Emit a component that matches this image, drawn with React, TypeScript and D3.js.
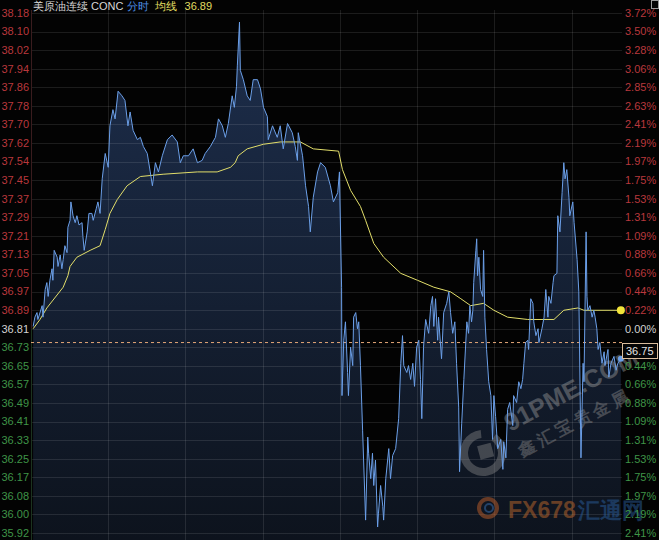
import React from 'react';
import * as d3 from 'd3';

const W = 659;
const H = 540;
const BASE = 36.81;
const STEP = 0.002188;

const leftLabels = ['38.18','38.10','38.02','37.94','37.86','37.78','37.70','37.62','37.54','37.45','37.37','37.29','37.21','37.13','37.05','36.97','36.89','36.81','36.73','36.65','36.57','36.49','36.41','36.33','36.25','36.17','36.08','36.00','35.92'];
const rightLabels = ['3.72%','3.50%','3.28%','3.06%','2.85%','2.63%','2.41%','2.19%','1.97%','1.75%','1.53%','1.31%','1.09%','0.88%','0.66%','0.44%','0.22%','0.00%','0.22%','0.44%','0.66%','0.88%','1.09%','1.31%','1.53%','1.75%','1.97%','2.19%','2.41%'];

const priceTimes = [
  5,9,14,16,26,28,33,37,40,44,49,51,54,61,63,68,72,75,79,84,86,91,93,98,103,107,112,119,121,124,131,135,142,145,152,156,161,163,166,
  173,180,184,191,196,203,212,219,226,231,238,248,255,262,271,278,283,290,297,306,318,329,341,348,355,367,378,388,399,406,418,430,437,446,453,460,469,474,479,481,486,488,495,504,511,518,528,535,542,551,553,563,574,581,588,598,609,616,621,623,633,640,647,651,658,668,675,686,698,705,715,719,
  724,
  725,729,733,738,740,745,750,752,757,761,764,768,773,780,785,787,792,796,799,803,808,810,815,820,822,827,834,838,843,850,857,862,866,869,876,880,885,890,894,899,904,908,911,915,920,927,932,936,939,943,948,950,957,962,969,974,978,983,988,992,997,999,1004,1009,1016,1020,1023,1027,
  1030,1032,1037,1039,1041,1044,1048,1053,1055,1058,1062,1067,1072,1076,1079,1083,1088,1095,1100,1102,1107,1111,1116,1123,1125,1132,1137,1142,1146,1149,1153,1158,1160,1165,1170,1172,1177,1182,1184,1191,1196,1200,1205,1207,1212,1217,1219,1226,1228,1233,1238,1242,1245,1249,1254,1256,1263,1266,1273,1277,1282,1287,1289,1294,1296,1298,1303,1308,1312,1315,1319,1322,1326,1331,1336,1338,1345,1347,1352,1359,1364,1368,1375
];
const priceValues = [
  36.82,36.86,36.88,36.85,36.91,36.86,36.98,37.01,36.95,37.02,37.07,37.02,37.15,37.12,37.08,37.13,37.07,37.11,37.17,37.14,37.25,37.28,37.36,37.30,37.27,37.30,37.26,37.27,37.21,37.15,37.23,37.31,37.31,37.28,37.33,37.36,37.31,37.37,37.46,
  37.57,37.51,37.69,37.76,37.72,37.84,37.82,37.80,37.69,37.75,37.67,37.63,37.64,37.60,37.57,37.49,37.43,37.53,37.49,37.56,37.63,37.65,37.62,37.53,37.56,37.56,37.59,37.53,37.54,37.57,37.60,37.64,37.72,37.69,37.64,37.70,37.82,37.77,37.86,37.95,38.14,37.93,37.89,37.82,37.80,37.89,37.89,37.85,37.77,37.73,37.63,37.69,37.64,37.69,37.59,37.70,37.66,37.60,37.54,37.66,37.56,37.43,37.34,37.23,37.38,37.49,37.53,37.51,37.43,37.36,37.40,37.49,
  36.99,
  36.52,36.76,36.84,36.62,36.52,36.73,36.65,36.86,36.88,36.81,36.84,36.65,36.37,35.98,36.34,36.27,36.16,36.27,36.13,36.24,35.95,36.01,36.13,36.04,35.98,36.16,36.29,36.16,36.26,36.29,36.42,36.66,36.78,36.65,36.62,36.65,36.59,36.66,36.56,36.73,36.76,36.59,36.42,36.73,36.85,36.79,36.91,36.95,36.82,36.94,36.76,36.86,36.68,36.88,36.92,36.97,36.88,36.79,36.84,36.66,36.47,36.19,36.40,36.59,36.84,36.79,36.91,36.84,
  36.89,37.01,37.15,37.20,37.04,37.12,36.98,36.95,37.15,36.86,36.72,36.58,36.52,36.33,36.52,36.43,36.29,36.33,36.20,36.32,36.25,36.46,36.49,36.39,36.52,36.49,36.58,36.55,36.59,36.66,36.75,36.76,36.72,36.94,36.92,36.84,36.78,36.81,36.75,36.81,36.86,36.98,36.86,36.95,36.92,37.01,37.04,37.05,37.30,37.23,37.40,37.53,37.46,37.50,37.38,37.30,37.36,37.27,37.11,36.97,36.25,36.66,36.58,37.23,36.95,36.89,36.91,36.86,36.89,36.86,36.81,36.72,36.75,36.66,36.71,36.65,36.72,36.60,36.66,36.69,36.63,36.66,36.68
];

const avgTimes = [5,21,37,75,86,91,107,138,161,173,184,201,224,255,308,388,434,465,476,483,504,542,581,628,658,717,726,745,768,780,799,822,862,901,939,978,1002,1025,1055,1079,1111,1158,1219,1242,1275,1289,1375];
const avgValues = [36.81,36.85,36.90,36.99,37.04,37.08,37.12,37.15,37.17,37.24,37.31,37.37,37.43,37.47,37.48,37.49,37.49,37.51,37.53,37.56,37.59,37.61,37.62,37.62,37.59,37.58,37.50,37.41,37.34,37.28,37.18,37.12,37.05,37.02,36.99,36.97,36.94,36.91,36.92,36.89,36.86,36.85,36.85,36.89,36.90,36.89,36.89];

const gridTimes = [180, 360, 540, 720, 900, 1080, 1260];
const currentPrice = 36.75;
const avgLast = '36.89';

const FONT = '"Liberation Sans", Arial, sans-serif';

export default function App() {
  const x = d3.scaleLinear().domain([0, 1380]).range([31, 623]);
  const y = d3.scaleLinear().domain([BASE * (1 - 11 * STEP), BASE * (1 + 17 * STEP)]).range([533, 13]);

  const n = Math.min(priceTimes.length, priceValues.length);
  const price = d3.range(n).map(i => ({ t: priceTimes[i], v: priceValues[i] }));
  const m = Math.min(avgTimes.length, avgValues.length);
  const avg = d3.range(m).map(i => ({ t: avgTimes[i], v: avgValues[i] }));

  const line = d3.line<any>().x(d => x(d.t)).y(d => y(d.v));
  const area = d3.area<any>().x(d => x(d.t)).y0(H).y1(d => y(d.v));

  const tickVals = leftLabels.map((_, i) => BASE * (1 + (17 - i) * STEP));
  const colorFor = (i: number) => (i < 17 ? '#b9383d' : i === 17 ? '#d2d2d2' : '#3f9447');

  const last = price[price.length - 1];
  const lastAvg = avg[avg.length - 1];
  const cy = y(currentPrice);
  const boxTop = Math.round(cy) + 0.5;

  return (
    <svg width={W} height={H} style={{ position: 'absolute', left: 0, top: 0, background: '#030303' }}>
      <defs>
        <linearGradient id="areaGrad" x1="0" y1="0" x2="0" y2="1">
          <stop offset="0%" stopColor="#1d2e4c" />
          <stop offset="100%" stopColor="#0d131d" />
        </linearGradient>
      </defs>
      <rect x={0} y={0} width={W} height={H} fill="#030303" />
      <path d={area(price) || ''} fill="url(#areaGrad)" />

      {/* grid */}
      {tickVals.map((v, i) => (
        <line key={'h' + i} x1={31} x2={622} y1={Math.round(y(v)) + 0.5} y2={Math.round(y(v)) + 0.5} stroke="rgba(255,255,255,0.10)" strokeWidth={1} />
      ))}
      {gridTimes.map((t, i) => (
        <line key={'v' + i} x1={Math.round(x(t)) + 0.5} x2={Math.round(x(t)) + 0.5} y1={10} y2={H} stroke="rgba(255,255,255,0.10)" strokeWidth={1} />
      ))}
      <line x1={31.5} x2={31.5} y1={10} y2={y(BASE)} stroke="#3a1c1e" />
      <line x1={31.5} x2={31.5} y1={y(BASE)} y2={H} stroke="#1c3320" />

      {/* watermarks */}
      <g opacity={0.42}>
        <g transform="translate(483,453)">
          <path d={d3.arc()({ innerRadius: 15, outerRadius: 23, startAngle: 0.6, endAngle: 2 * Math.PI - 0.1 }) || ''} fill="#8a8a8a" />
          <rect x={-4} y={-8} width={14} height={14} fill="#8a8a8a" transform="rotate(-15)" />
        </g>
        <text x={0} y={0} transform="translate(510,432) rotate(-28)" fontFamily={FONT} fontWeight="bold" fontSize={25} fill="#a0a0a0">91PME.COM</text>
        <text x={0} y={0} transform="translate(522,457) rotate(-28)" fontFamily={FONT} fontWeight="bold" fontSize={17} fill="#909090" letterSpacing={4}>鑫汇宝贵金属</text>
      </g>
      <g opacity={0.5}>
        <circle cx={488} cy={508} r={9} fill="none" stroke="#c0602a" strokeWidth={4} />
        <circle cx={489} cy={508} r={4} fill="none" stroke="#3a70b0" strokeWidth={2} />
        <text x={508} y={518} fontFamily={FONT} fontWeight="bold" fontSize={23} fill="#c0692c">FX678</text>
        <text x={578} y={518} fontFamily={FONT} fontWeight="bold" fontSize={22} fill="#2a5e9c">汇通网</text>
      </g>

      {/* lines */}
      <line x1={31} x2={622} y1={cy} y2={cy} stroke="#e3a677" strokeDasharray="3,3" strokeWidth={1} />
      <path d={line(avg) || ''} fill="none" stroke="#e2de6a" strokeWidth={1} />
      <path d={line(price) || ''} fill="none" stroke="#6b9fe8" strokeWidth={1} />
      <circle cx={x(lastAvg.t)} cy={y(lastAvg.v)} r={4} fill="#f2e43a" />
      <circle cx={x(last.t)} cy={y(last.v)} r={3} fill="#6b9fe8" />

      {/* left axis labels */}
      {leftLabels.map((s, i) => (
        <text key={'l' + i} x={29} y={y(tickVals[i])} dy="0.35em" textAnchor="end" fontFamily={FONT} fontSize={11} fill={colorFor(i)}>{s}</text>
      ))}
      {/* right axis labels (the one under the current-price box is hidden, as in the reference) */}
      {rightLabels.map((s, i) => {
        const ty = y(tickVals[i]);
        if (ty > boxTop - 2 && ty < boxTop + 15) return null;
        return (
          <text key={'r' + i} x={625} y={ty} dy="0.35em" textAnchor="start" fontFamily={FONT} fontSize={11} fill={colorFor(i)}>{s}</text>
        );
      })}

      {/* current price box */}
      <rect x={622.5} y={boxTop} width={35} height={15} fill="#050505" stroke="#d9bc9c" strokeWidth={1} />
      <text x={626} y={boxTop + 11.5} fontFamily={FONT} fontSize={11} fill="#e6e6e6">{currentPrice.toFixed(2)}</text>

      {/* title */}
      <text x={33} y={10} fontFamily={FONT} fontSize={11}>
        <tspan fill="#d6d6d6">美原油连续 CONC </tspan>
        <tspan fill="#4d8ee2">分时 </tspan>
        <tspan fill="#e0dc60" dx={3}>均线</tspan>
        <tspan fill="#e0dc60" dx={8}>{avgLast}</tspan>
      </text>
      <rect x={651.5} y={0.5} width={7} height={8} fill="none" stroke="#9a9a9a" strokeWidth={1} />
    </svg>
  );
}
